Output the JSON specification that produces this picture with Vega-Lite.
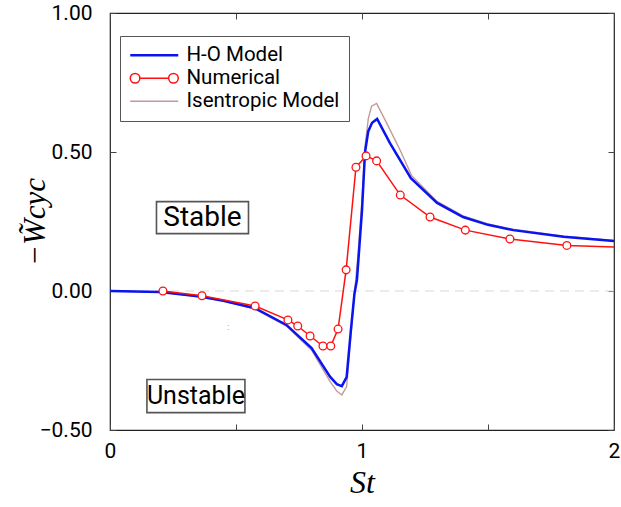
{
  "$schema": "https://vega.github.io/schema/vega-lite/v6.json",
  "width": 504,
  "height": 417,
  "autosize": {"type": "none"},
  "padding": {"left": 110, "top": 13, "right": 7, "bottom": 77},
  "background": "white",
  "config": {
    "view": {"stroke": "#222", "strokeWidth": 1.2},
    "font": "Roboto",
    "axis": {
      "grid": false,
      "domainColor": "#444",
      "tickColor": "#444",
      "labelFont": "Roboto",
      "labelFontSize": 21,
      "labelColor": "#000",
      "labelFlush": false,
      "titleColor": "#000",
      "titleFont": "Liberation Serif",
      "titleFontStyle": "italic",
      "titleFontWeight": "normal"
    }
  },
  "datasets": {
    "curves": [
      {"series": "Isentropic Model", "st": 0, "w": 0},
      {"series": "Isentropic Model", "st": 0.2, "w": -0.004},
      {"series": "Isentropic Model", "st": 0.357, "w": -0.021},
      {"series": "Isentropic Model", "st": 0.45, "w": -0.036},
      {"series": "Isentropic Model", "st": 0.575, "w": -0.064},
      {"series": "Isentropic Model", "st": 0.7, "w": -0.126},
      {"series": "Isentropic Model", "st": 0.8, "w": -0.213},
      {"series": "Isentropic Model", "st": 0.873, "w": -0.325},
      {"series": "Isentropic Model", "st": 0.9, "w": -0.36},
      {"series": "Isentropic Model", "st": 0.92, "w": -0.374},
      {"series": "Isentropic Model", "st": 0.939, "w": -0.344},
      {"series": "Isentropic Model", "st": 0.955, "w": -0.17},
      {"series": "Isentropic Model", "st": 0.97, "w": -0.01},
      {"series": "Isentropic Model", "st": 0.985, "w": 0.14},
      {"series": "Isentropic Model", "st": 1.0, "w": 0.33},
      {"series": "Isentropic Model", "st": 1.012, "w": 0.52},
      {"series": "Isentropic Model", "st": 1.025, "w": 0.62},
      {"series": "Isentropic Model", "st": 1.038, "w": 0.665},
      {"series": "Isentropic Model", "st": 1.058, "w": 0.675},
      {"series": "Isentropic Model", "st": 1.098, "w": 0.604},
      {"series": "Isentropic Model", "st": 1.151, "w": 0.507},
      {"series": "Isentropic Model", "st": 1.197, "w": 0.415},
      {"series": "Isentropic Model", "st": 1.298, "w": 0.322},
      {"series": "Isentropic Model", "st": 1.401, "w": 0.27},
      {"series": "Isentropic Model", "st": 1.5, "w": 0.241},
      {"series": "Isentropic Model", "st": 1.6, "w": 0.222},
      {"series": "Isentropic Model", "st": 1.8, "w": 0.197},
      {"series": "Isentropic Model", "st": 2.0, "w": 0.182},
      {"series": "H-O Model", "st": 0, "w": 0},
      {"series": "H-O Model", "st": 0.2, "w": -0.004},
      {"series": "H-O Model", "st": 0.357, "w": -0.02},
      {"series": "H-O Model", "st": 0.45, "w": -0.035},
      {"series": "H-O Model", "st": 0.575, "w": -0.062},
      {"series": "H-O Model", "st": 0.7, "w": -0.122},
      {"series": "H-O Model", "st": 0.8, "w": -0.205},
      {"series": "H-O Model", "st": 0.873, "w": -0.308},
      {"series": "H-O Model", "st": 0.9, "w": -0.335},
      {"series": "H-O Model", "st": 0.92, "w": -0.342},
      {"series": "H-O Model", "st": 0.939, "w": -0.31},
      {"series": "H-O Model", "st": 0.955, "w": -0.15},
      {"series": "H-O Model", "st": 0.97, "w": -0.01},
      {"series": "H-O Model", "st": 0.98, "w": 0.04},
      {"series": "H-O Model", "st": 1.0, "w": 0.29},
      {"series": "H-O Model", "st": 1.012, "w": 0.5},
      {"series": "H-O Model", "st": 1.025, "w": 0.575},
      {"series": "H-O Model", "st": 1.04, "w": 0.605},
      {"series": "H-O Model", "st": 1.06, "w": 0.619},
      {"series": "H-O Model", "st": 1.111, "w": 0.532},
      {"series": "H-O Model", "st": 1.194, "w": 0.406},
      {"series": "H-O Model", "st": 1.298, "w": 0.317},
      {"series": "H-O Model", "st": 1.401, "w": 0.266},
      {"series": "H-O Model", "st": 1.5, "w": 0.238},
      {"series": "H-O Model", "st": 1.6, "w": 0.219},
      {"series": "H-O Model", "st": 1.8, "w": 0.195},
      {"series": "H-O Model", "st": 2.0, "w": 0.18},
      {"series": "Numerical", "st": 0.21, "w": 0.0},
      {"series": "Numerical", "st": 0.365, "w": -0.017},
      {"series": "Numerical", "st": 0.576, "w": -0.054},
      {"series": "Numerical", "st": 0.706, "w": -0.104},
      {"series": "Numerical", "st": 0.745, "w": -0.126},
      {"series": "Numerical", "st": 0.794, "w": -0.162},
      {"series": "Numerical", "st": 0.845, "w": -0.198},
      {"series": "Numerical", "st": 0.876, "w": -0.198},
      {"series": "Numerical", "st": 0.905, "w": -0.137},
      {"series": "Numerical", "st": 0.937, "w": 0.076},
      {"series": "Numerical", "st": 0.976, "w": 0.445},
      {"series": "Numerical", "st": 1.016, "w": 0.486},
      {"series": "Numerical", "st": 1.058, "w": 0.468},
      {"series": "Numerical", "st": 1.152, "w": 0.345},
      {"series": "Numerical", "st": 1.27, "w": 0.266},
      {"series": "Numerical", "st": 1.41, "w": 0.219},
      {"series": "Numerical", "st": 1.587, "w": 0.187},
      {"series": "Numerical", "st": 1.813, "w": 0.164},
      {"series": "Numerical", "st": 2.03, "w": 0.157}
    ],
    "notes": [
      {"label": "Stable", "st": 0.367, "w": 0.264},
      {"label": "Unstable", "st": 0.341, "w": -0.378},
      {"label": ":", "st": 0.47, "w": -0.128}
    ]
  },
  "resolve": {"axis": {"x": "independent", "y": "independent"}},
  "layer": [
    {
      "data": {"values": [{}]},
      "mark": {"type": "rule", "color": "#d8d8d8", "strokeDash": [9, 6], "strokeWidth": 1},
      "encoding": {
        "y": {"datum": 0, "type": "quantitative", "scale": {"domain": [-0.5, 1], "nice": false}, "axis": null}
      }
    },
    {
      "data": {"name": "curves"},
      "transform": [{"filter": "datum.series == 'Isentropic Model'"}],
      "mark": {"type": "line", "strokeWidth": 1.4, "clip": true},
      "encoding": {
        "x": {"field": "st", "type": "quantitative", "scale": {"domain": [0, 2], "nice": false},
          "axis": {"orient": "bottom", "values": [0, 0.5, 1, 1.5, 2], "labelExpr": "datum.value % 1 == 0 ? format(datum.value, 'd') : ''",
            "tickSize": -6, "labelPadding": 16, "domain": false, "title": "St", "titleFontSize": 32, "titlePadding": 6}},
        "y": {"field": "w", "type": "quantitative", "scale": {"domain": [-0.5, 1], "nice": false},
          "axis": {"orient": "left", "values": [-0.5, 0, 0.5, 1], "format": ".2f", "tickSize": -6, "labelPadding": 24, "domain": false,
            "title": "−W̃cyc", "titleFontSize": 31, "titlePadding": -12}},
        "color": {"field": "series", "type": "nominal",
          "scale": {"domain": ["H-O Model", "Numerical", "Isentropic Model"], "range": ["#0a14f0", "#ff1010", "#c29a9a"]},
          "legend": {
            "title": null,
            "orient": "none",
            "legendX": 10,
            "legendY": 23,
            "strokeColor": "#555",
            "fillColor": "white",
            "padding": 9,
            "symbolType": "stroke",
            "symbolSize": 2304,
            "symbolOffset": 15,
            "symbolStrokeWidth": 2,
            "labelFont": "Roboto",
            "labelFontSize": 20.5,
            "labelColor": "#000",
            "labelOffset": 22,
            "rowPadding": 2,
            "encode": {
              "symbols": {
                "update": {
                  "shape": {"signal": "datum.label == 'Numerical' ? 'M-0.6,0L0.6,0M-1,0a0.2,0.2 0 1,0 0.4,0a0.2,0.2 0 1,0 -0.4,0M0.6,0a0.2,0.2 0 1,0 0.4,0a0.2,0.2 0 1,0 -0.4,0' : 'stroke'"},
                  "fill": {"signal": "datum.label == 'Numerical' ? 'white' : 'transparent'"},
                  "strokeWidth": {"signal": "datum.label == 'H-O Model' ? 2.5 : (datum.label == 'Numerical' ? 1.5 : 1.4)"}
                }
              }
            }
          }}
      }
    },
    {
      "data": {"name": "curves"},
      "transform": [{"filter": "datum.series == 'H-O Model'"}],
      "mark": {"type": "line", "strokeWidth": 2.5, "clip": true},
      "encoding": {
        "x": {"field": "st", "type": "quantitative", "scale": {"domain": [0, 2], "nice": false}, "axis": null},
        "y": {"field": "w", "type": "quantitative", "scale": {"domain": [-0.5, 1], "nice": false}, "axis": null},
        "color": {"field": "series", "type": "nominal"}
      }
    },
    {
      "data": {"name": "curves"},
      "transform": [{"filter": "datum.series == 'Numerical'"}],
      "mark": {"type": "line", "strokeWidth": 1.5, "clip": true},
      "encoding": {
        "x": {"field": "st", "type": "quantitative", "scale": {"domain": [0, 2], "nice": false}, "axis": null},
        "y": {"field": "w", "type": "quantitative", "scale": {"domain": [-0.5, 1], "nice": false}, "axis": null},
        "color": {"field": "series", "type": "nominal"}
      }
    },
    {
      "data": {"name": "curves"},
      "transform": [{"filter": "datum.series == 'Numerical'"}],
      "mark": {"type": "point", "shape": "circle", "filled": true, "fill": "white", "stroke": "#ff1010", "strokeWidth": 1.3, "size": 60, "opacity": 1, "clip": true},
      "encoding": {
        "x": {"field": "st", "type": "quantitative", "scale": {"domain": [0, 2], "nice": false}, "axis": null},
        "y": {"field": "w", "type": "quantitative", "scale": {"domain": [-0.5, 1], "nice": false}, "axis": null}
      }
    },
    {
      "data": {"name": "notes"},
      "transform": [{"filter": "datum.label == 'Stable'"}],
      "mark": {"type": "point", "shape": "M-1,-0.348L1,-0.348L1,0.348L-1,0.348Z", "size": 8464, "filled": true, "fill": "white", "stroke": "#555", "strokeWidth": 1.6, "opacity": 1},
      "encoding": {
        "x": {"field": "st", "type": "quantitative", "scale": {"domain": [0, 2], "nice": false}, "axis": null},
        "y": {"field": "w", "type": "quantitative", "scale": {"domain": [-0.5, 1], "nice": false}, "axis": null}
      }
    },
    {
      "data": {"name": "notes"},
      "transform": [{"filter": "datum.label == 'Unstable'"}],
      "mark": {"type": "point", "shape": "M-1,-0.337L1,-0.337L1,0.337L-1,0.337Z", "size": 9604, "filled": true, "fill": "white", "stroke": "#555", "strokeWidth": 1.6, "opacity": 1},
      "encoding": {
        "x": {"field": "st", "type": "quantitative", "scale": {"domain": [0, 2], "nice": false}, "axis": null},
        "y": {"field": "w", "type": "quantitative", "scale": {"domain": [-0.5, 1], "nice": false}, "axis": null}
      }
    },
    {
      "data": {"name": "notes"},
      "transform": [{"filter": "datum.label == 'Stable'"}],
      "mark": {"type": "text", "font": "Roboto", "fontSize": 28, "color": "#000", "align": "center", "baseline": "middle"},
      "encoding": {
        "x": {"field": "st", "type": "quantitative", "scale": {"domain": [0, 2], "nice": false}, "axis": null},
        "y": {"field": "w", "type": "quantitative", "scale": {"domain": [-0.5, 1], "nice": false}, "axis": null},
        "text": {"field": "label"}
      }
    },
    {
      "data": {"name": "notes"},
      "transform": [{"filter": "datum.label == 'Unstable'"}],
      "mark": {"type": "text", "font": "Roboto", "fontSize": 25, "color": "#000", "align": "center", "baseline": "middle"},
      "encoding": {
        "x": {"field": "st", "type": "quantitative", "scale": {"domain": [0, 2], "nice": false}, "axis": null},
        "y": {"field": "w", "type": "quantitative", "scale": {"domain": [-0.5, 1], "nice": false}, "axis": null},
        "text": {"field": "label"}
      }
    },
    {
      "data": {"name": "notes"},
      "transform": [{"filter": "datum.label == ':'"}],
      "mark": {"type": "text", "font": "Roboto", "fontSize": 9, "color": "#888", "align": "center", "baseline": "middle"},
      "encoding": {
        "x": {"field": "st", "type": "quantitative", "scale": {"domain": [0, 2], "nice": false}, "axis": null},
        "y": {"field": "w", "type": "quantitative", "scale": {"domain": [-0.5, 1], "nice": false}, "axis": null},
        "text": {"field": "label"}
      }
    },
    {
      "data": {"values": [{}]},
      "mark": {"type": "point", "opacity": 0},
      "encoding": {
        "x": {"datum": 0, "type": "quantitative", "scale": {"domain": [0, 2], "nice": false},
          "axis": {"orient": "top", "values": [0, 0.5, 1, 1.5, 2], "labels": false, "tickSize": -6, "domain": false, "title": null}},
        "y": {"datum": 0, "type": "quantitative", "scale": {"domain": [-0.5, 1], "nice": false},
          "axis": {"orient": "right", "values": [-0.5, 0, 0.5, 1], "labels": false, "tickSize": -6, "domain": false, "title": null}}
      }
    }
  ]
}
